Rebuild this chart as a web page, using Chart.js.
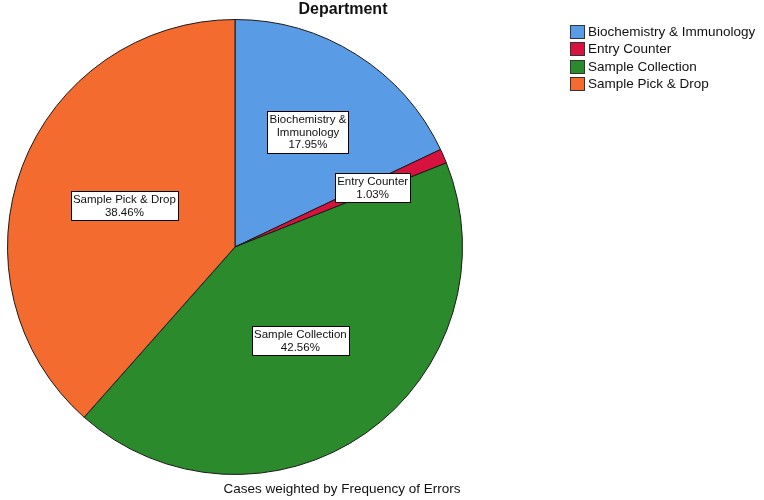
<!DOCTYPE html>
<html>
<head>
<meta charset="utf-8">
<script src="https://cdn.jsdelivr.net/npm/chart.js@4.4.1/dist/chart.umd.min.js"></script>
<style>
  html, body { margin: 0; padding: 0; background: #fff; }
  canvas { display: block; }
</style>
</head>
<body>
<canvas id="deptChart" width="764" height="500"></canvas>
<script>
    // Department categories and weighted error counts
    const categories = ['Biochemistry & Immunology', 'Entry Counter', 'Sample Collection', 'Sample Pick & Drop'];
    const errorCounts = [35, 2, 83, 75];
    // Wrapped text for the in-slice labels
    const labelLines = [['Biochemistry &', 'Immunology'], ['Entry Counter'], ['Sample Collection'], ['Sample Pick & Drop']];
    const sliceColors = ['#5a9be6', '#d8123e', '#2b8a2b', '#f36b2e'];

    const total = errorCounts.reduce((a, b) => a + b, 0);
    const FONT = '"Liberation Sans", Arial, sans-serif';

    // Draws the boxed labels, title, legend and footnote
    const spssDecor = {
        id: 'spssDecor',
        afterDatasetsDraw(chart, args, opts) {
            const ctx = chart.ctx;
            const meta = chart.getDatasetMeta(0);
            ctx.save();
            ctx.font = '11.5px ' + FONT;
            ctx.textAlign = 'center';
            ctx.textBaseline = 'middle';
            meta.data.forEach((arc, i) => {
                const p = arc.getProps(['x', 'y', 'startAngle', 'endAngle', 'outerRadius'], true);
                const mid = (p.startAngle + p.endAngle) / 2;
                const r = p.outerRadius * opts.labelRadius[i];
                const cx = p.x + Math.cos(mid) * r;
                const cy = p.y + Math.sin(mid) * r;
                const lines = labelLines[i].concat([(errorCounts[i] / total * 100).toFixed(2) + '%']);
                const lh = 12.5;
                let w = 0;
                lines.forEach(l => { w = Math.max(w, ctx.measureText(l).width); });
                const bw = Math.round(w + 4);
                const bh = Math.round(lines.length * lh + 4);
                const bx = Math.round(cx - bw / 2) + 0.5;
                const by = Math.round(cy - bh / 2) + 0.5;
                ctx.fillStyle = '#fff';
                ctx.fillRect(bx, by, bw, bh);
                ctx.strokeStyle = '#000';
                ctx.lineWidth = 1;
                ctx.strokeRect(bx, by, bw, bh);
                ctx.fillStyle = '#111';
                lines.forEach((l, k) => {
                    ctx.fillText(l, cx, by + 2 + lh * k + lh / 2 + 0.5);
                });
            });

            // title
            ctx.font = 'bold 16px ' + FONT;
            ctx.fillStyle = '#111';
            ctx.fillText('Department', 343, 10);

            // footnote
            ctx.font = '13.5px ' + FONT;
            ctx.fillText('Cases weighted by Frequency of Errors', 342, 489);

            // legend
            ctx.textAlign = 'left';
            categories.forEach((c, i) => {
                const y = 31.5 + i * 17.4;
                ctx.fillStyle = sliceColors[i];
                ctx.fillRect(570.5, Math.round(y - 6.5) + 0.5, 14, 13);
                ctx.strokeStyle = '#333';
                ctx.strokeRect(570.5, Math.round(y - 6.5) + 0.5, 14, 13);
                ctx.fillStyle = '#111';
                ctx.fillText(c, 588, y + 0.5);
            });
            ctx.restore();
        }
    };

    new Chart(document.getElementById('deptChart').getContext('2d'), {
        type: 'pie',
        data: {
            labels: categories,
            datasets: [{
                data: errorCounts,
                backgroundColor: sliceColors,
                borderColor: '#1a1a1a',
                borderWidth: 1
            }]
        },
        options: {
            responsive: false,
            animation: false,
            layout: {
                padding: { left: 7, top: 19, right: 301, bottom: 25 }
            },
            plugins: {
                legend: { display: false },
                tooltip: { enabled: false },
                spssDecor: { labelRadius: [0.6, 0.66, 0.5, 0.52] }
            }
        },
        plugins: [spssDecor]
    });
</script>
</body>
</html>
